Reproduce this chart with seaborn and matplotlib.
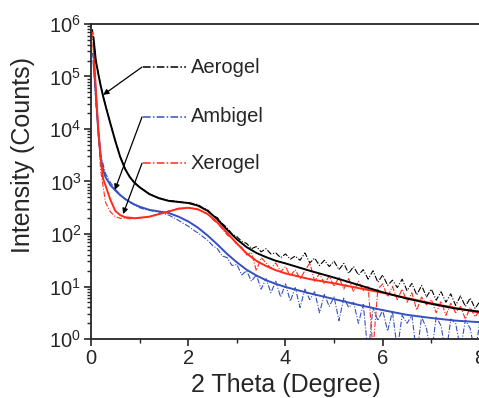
import numpy as np
import pandas as pd
import matplotlib
matplotlib.use("Agg")
import matplotlib.pyplot as plt
import seaborn as sns
from matplotlib.ticker import LogLocator, MultipleLocator, NullFormatter

# ---------------- data (log10 of intensity) ----------------
x_fit = [0.05, 0.1, 0.15, 0.2, 0.25, 0.3, 0.4, 0.5, 0.6, 0.7, 0.8, 0.9, 1.0, 1.2, 1.4,
         1.6, 1.8, 2.0, 2.2, 2.4, 2.6, 2.8, 3.0, 3.2, 3.4, 3.6, 3.8, 4.0, 4.5, 5.0,
         5.5, 6.0, 6.5, 7.0, 7.5, 8.0]
aerogel_fit_log = [5.75, 5.3, 5.05, 4.82, 4.62, 4.44, 4.1, 3.77, 3.47, 3.24, 3.08, 2.97,
                   2.89, 2.76, 2.68, 2.63, 2.61, 2.59, 2.54, 2.44, 2.28, 2.08, 1.9, 1.75,
                   1.64, 1.56, 1.49, 1.44, 1.3, 1.17, 1.03, 0.89, 0.77, 0.67, 0.58, 0.52]
ambigel_fit_log = [5.3, 4.65, 3.95, 3.45, 3.22, 3.08, 2.93, 2.83, 2.74, 2.67, 2.61, 2.56,
                   2.52, 2.46, 2.43, 2.4, 2.33, 2.24, 2.12, 1.97, 1.8, 1.62, 1.46, 1.32,
                   1.21, 1.12, 1.05, 0.99, 0.87, 0.76, 0.65, 0.55, 0.46, 0.4, 0.35, 0.32]
xerogel_fit_log = [5.6, 4.75, 4.0, 3.45, 3.05, 2.92, 2.65, 2.44, 2.36, 2.32, 2.31, 2.3,
                   2.31, 2.33, 2.38, 2.43, 2.48, 2.5, 2.47, 2.38, 2.22, 2.02, 1.82, 1.63,
                   1.49, 1.39, 1.31, 1.25, 1.14, 1.06, 0.97, 0.88, 0.78, 0.68, 0.59, 0.5]

x_meas = [0.03, 0.05] + [round(0.1 * i, 1) for i in range(1, 81)]
aerogel_meas_log = [5.9, 5.7,
    5.3, 4.83, 4.45, 4.1, 3.78, 3.48, 3.25, 3.09, 2.98, 2.9,
    2.83, 2.77, 2.72, 2.69, 2.66, 2.64, 2.63, 2.62, 2.6, 2.6,
    2.58, 2.56, 2.5, 2.46, 2.36, 2.31, 2.2, 2.12, 2.0, 1.95,
    1.86, 1.82, 1.72, 1.76, 1.66, 1.72, 1.62, 1.64, 1.55, 1.62,
    1.52, 1.58, 1.5, 1.64, 1.45, 1.54, 1.4, 1.5, 1.38, 1.48,
    1.32, 1.44, 1.25, 1.38, 1.22, 1.32, 1.14, 1.3, 1.08, 1.22,
    1.02, 1.12, 0.98, 1.14, 0.92, 1.06, 0.84, 1.02, 0.8, 0.95,
    0.74, 0.9, 0.7, 0.86, 0.64, 0.82, 0.62, 0.78, 0.58, 0.72]
ambigel_meas_log = [5.45, 5.3,
    4.5, 3.5, 3.15, 2.98, 2.85, 2.76, 2.66, 2.6, 2.55, 2.5,
    2.47, 2.45, 2.43, 2.42, 2.38, 2.36, 2.31, 2.26, 2.2, 2.15,
    2.08, 2.02, 1.95, 1.88, 1.78, 1.72, 1.58, 1.55, 1.4, 1.42,
    1.22, 1.3, 1.1, 1.22, 0.95, 1.15, 0.88, 1.1, 0.8, 1.05,
    0.72, 0.98, 0.6, 0.95, 0.75, 0.9, 0.5, 0.85, 0.62, 0.8,
    0.35, 0.78, 0.6, 0.7, 0.3, 0.66, -0.3, 0.6, 0.35, 0.55,
    0.15, 0.52, -0.2, 0.45, 0.3, 0.45, -0.3, 0.42, 0.2, -0.3,
    0.42, 0.25, -0.3, 0.38, 0.3, -0.2, 0.36, 0.2, -0.3, 0.36]
xerogel_meas_log = [5.85, 5.5,
    4.6, 3.2, 2.6, 2.42, 2.33, 2.3, 2.3, 2.29, 2.3, 2.3,
    2.32, 2.33, 2.36, 2.38, 2.4, 2.44, 2.46, 2.49, 2.5, 2.5,
    2.49, 2.47, 2.42, 2.38, 2.28, 2.2, 2.1, 1.98, 1.92, 1.8,
    1.75, 1.6, 1.65, 1.3, 1.55, 1.45, 1.35, 1.45, 1.28, 1.38,
    1.2, 1.32, 1.15, 1.3, 1.45, 1.1, 1.25, 1.05, 1.2, 1.0,
    1.18, 0.95, 1.15, 0.9, 1.1, 0.92, 1.0, -0.2, 0.95, 1.05,
    0.8, 1.0, 0.75, 0.95, 0.7, 0.88, 0.55, 0.8, 0.65, 0.75,
    0.5, 0.72, 0.45, 0.68, 0.5, 0.62, 0.38, 0.6, 0.42, 0.55]

samples = ["Aerogel", "Ambigel", "Xerogel"]
colors = {"Aerogel": "#000000", "Ambigel": "#3550c0", "Xerogel": "#ff2a1a"}
# annotation: (start x, start log y) -> (arrow tip x, tip log y)
label_start_log = [5.18, 4.23, 3.35]
arrow_tip = [(0.25, 4.65), (0.49, 2.84), (0.66, 2.38)]

# ---------------- figure ----------------
sns.set_style("ticks")
plt.rcParams["font.family"] = ["Liberation Sans", "DejaVu Sans"]
plt.rcParams["mathtext.fontset"] = "custom"
plt.rcParams["mathtext.rm"] = "Liberation Sans"
plt.rcParams["mathtext.default"] = "regular"

fig = plt.figure(figsize=(4.79, 3.98), dpi=100)
ax = fig.add_axes([91 / 479, 1 - 339 / 398, (479 - 91) / 479 + 0.002, (339 - 24) / 398])

meas = {"Aerogel": aerogel_meas_log, "Ambigel": ambigel_meas_log, "Xerogel": xerogel_meas_log}
fits = {"Aerogel": aerogel_fit_log, "Ambigel": ambigel_fit_log, "Xerogel": xerogel_fit_log}
dashdot = (0, (5, 1.5, 1, 1.5))

for s in samples:
    dm = pd.DataFrame({"x": x_meas, "y": 10 ** np.array(meas[s])})
    sns.lineplot(data=dm, x="x", y="y", ax=ax, color=colors[s], lw=0.8,
                 linestyle=dashdot, sort=False, estimator=None)
for s in ["Ambigel", "Xerogel", "Aerogel"]:
    df = pd.DataFrame({"x": x_fit, "y": 10 ** np.array(fits[s])})
    sns.lineplot(data=df, x="x", y="y", ax=ax, color=colors[s], lw=1.4,
                 sort=False, estimator=None)

ax.set_yscale("log")
ax.set_xlim(0, 8)
ax.set_ylim(1, 1e6)

# annotations with legend-like dash-dot keys
for s, ly, (tx, ty) in zip(samples, label_start_log, arrow_tip):
    y0 = 10 ** ly
    ax.plot([1.07, 1.96], [y0, y0], color=colors[s], lw=1.1, linestyle=dashdot)
    ax.text(2.05, y0, s, fontsize=14.5, va="center", ha="left")
    ax.annotate("", xy=(tx, 10 ** ty), xytext=(1.05, y0),
                arrowprops=dict(arrowstyle="-|>", color="black", lw=0.9,
                                mutation_scale=8, shrinkA=0, shrinkB=0))

ax.spines["right"].set_visible(False)
for sp in ["left", "bottom", "top"]:
    ax.spines[sp].set_linewidth(1.3)

ax.xaxis.set_major_locator(MultipleLocator(2))
ax.xaxis.set_minor_locator(MultipleLocator(1))
ax.yaxis.set_major_locator(LogLocator(base=10, numticks=10))
ax.yaxis.set_minor_locator(LogLocator(base=10, subs=np.arange(2, 10), numticks=10))
ax.yaxis.set_minor_formatter(NullFormatter())
ax.tick_params(axis="both", which="major", direction="out", length=5, width=1.2,
               labelsize=14.5, pad=2, top=False, right=False)
ax.tick_params(axis="both", which="minor", direction="out", length=3, width=1.0,
               top=False, right=False)

ax.set_xlabel("2 Theta (Degree)", fontsize=18, labelpad=4)
ax.set_ylabel("Intensity (Counts)", fontsize=18)
ax.yaxis.set_label_coords(-0.145, 0.585)

fig.savefig("out.png", dpi=100)
